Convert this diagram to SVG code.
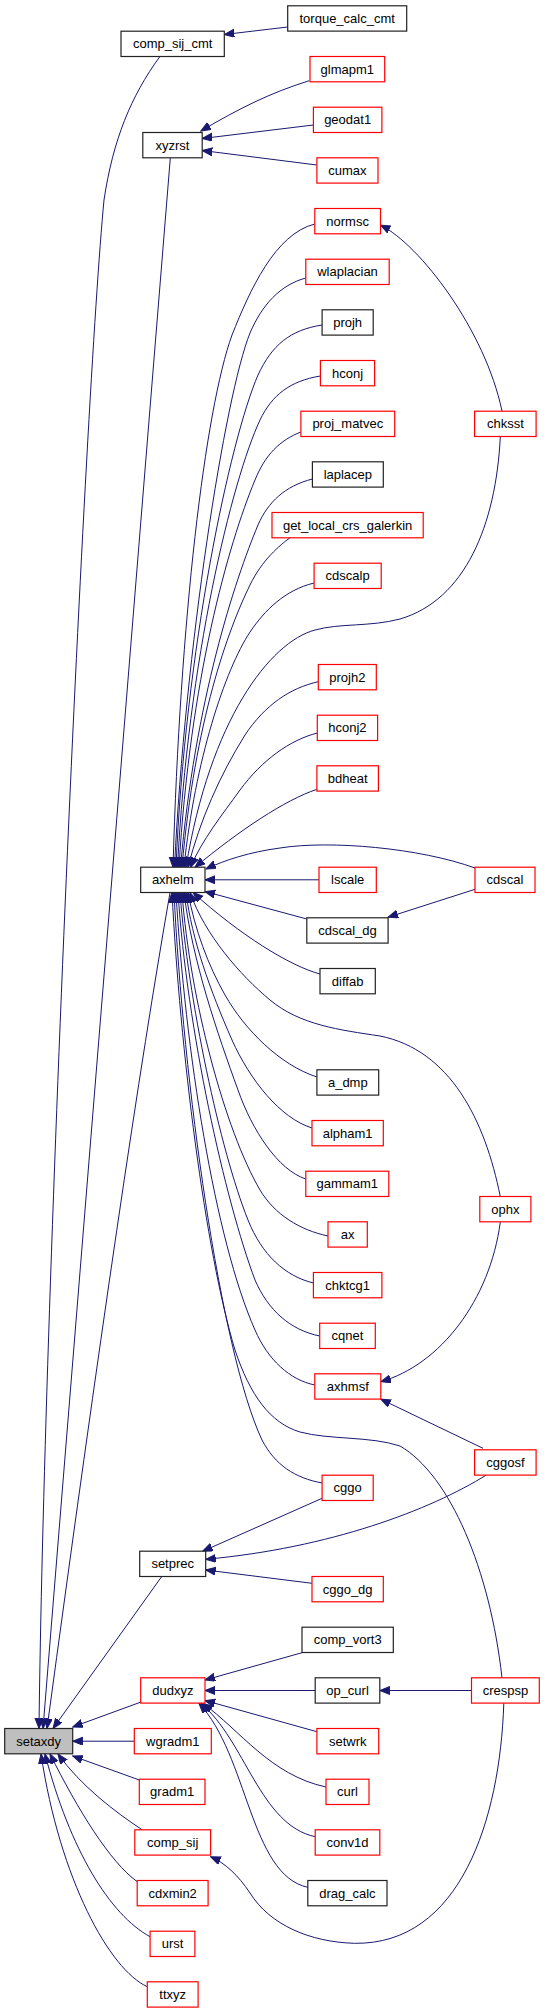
<svg xmlns="http://www.w3.org/2000/svg" width="544" height="2013" viewBox="0 0 544 2013">
<style>
rect{fill:#fff;stroke:#222;stroke-width:1.2}
.r rect{stroke:#f00}
.g rect{fill:#bfbfbf}
text{font-family:"Liberation Sans",Arial,sans-serif;font-size:13px;text-anchor:middle;fill:#000}
#edges path{fill:none;stroke:#191970;stroke-width:1;marker-end:url(#a)}
</style>
<defs>
<marker id="a" markerWidth="11" markerHeight="9" refX="10" refY="4" orient="auto" markerUnits="userSpaceOnUse"><path d="M0,0 L10,4 L0,8 z" fill="#191970" stroke="#191970" stroke-width="1"/></marker>
</defs>
<rect x="0" y="0" width="544" height="2013" style="fill:#fff;stroke:none"/>
<g id="edges">
<path d="M287.7,27 L224.3,34.5"/>
<path d="M159.8,56.7 C131,96 113,140 104,200 C85,400 44,1300 39,1728.5"/>
<path d="M170.3,158 L43,1728.5"/>
<path d="M170,892.7 Q125,1150 47,1728.5"/>
<path d="M161.6,1576.7 L53,1728.5"/>
<path d="M141,1702 L72.7,1727"/>
<path d="M134.3,1741.2 L72.7,1741.2"/>
<path d="M139.3,1780 L72.7,1756"/>
<path d="M142.5,1830 C115,1812 80,1785 58,1754"/>
<path d="M137.2,1881.7 C110,1862 78,1810 50,1754"/>
<path d="M150.1,1936.7 C110,1915 70,1850 45,1754"/>
<path d="M147.3,1986.7 C110,1970 60,1880 41,1754"/>
<path d="M322.1,1498.3 L202.6,1551.3"/>
<path d="M486.4,1475 C430,1510 330,1548 205.7,1559.3"/>
<path d="M312,1583.3 L205.7,1570"/>
<path d="M302,1652.7 L205,1680"/>
<path d="M315.2,1690.5 L205,1690.5"/>
<path d="M471.5,1690.5 L379.8,1690.5"/>
<path d="M316.9,1731.7 L205,1700.5"/>
<path d="M326,1787 C270,1775 240,1730 203,1703.5"/>
<path d="M315.2,1836.7 C260,1825 245,1740 201,1703.5"/>
<path d="M307.8,1887.3 C250,1875 248,1755 199,1703.5"/>
<path d="M503.8,1703.3 C500,1820 460,1945 354.4,1943.3 C310,1942 270,1925 250,1893 C238,1875 225,1863 210.6,1856.7"/>
<path d="M500.3,1222 C490,1300 440,1365 380.8,1381.7"/>
<path d="M483,1448.3 L380.8,1399.2"/>
<path d="M309.2,80.7 C270,93 240,108 200.8,131"/>
<path d="M313.4,125 L202.2,138.5"/>
<path d="M316.9,165 L202.2,150.5"/>
<path d="M502,411 C485,330 420,245 380.5,225"/>
<path d="M314.8,224 C275,234 250,290 232,335 C205,410 180,620 173,867.2"/>
<path d="M305.8,278 C280,285 262,305 250,333 C225,395 185,650 174.5,867.2"/>
<path d="M322.1,325 C290,330 272,345 258,375 C230,440 185,650 176,867.2"/>
<path d="M320.4,376 C290,381 272,395 260,420 C232,480 188,660 177.5,867.2"/>
<path d="M300.9,432 C280,440 265,455 255,480 C228,545 190,680 179,867.2"/>
<path d="M312.4,479 C285,486 268,502 258,525 C235,580 195,700 180.5,867.2"/>
<path d="M290,537.8 C280,545 262,560 250,585 C228,630 195,720 182,867.2"/>
<path d="M314.1,583 C285,590 265,610 250,632 C225,670 195,760 184,867.2"/>
<path d="M500.3,436.7 C496,525 465,600 400,619 C370,627 340,623 315,630 C270,642 210,720 186,867.2"/>
<path d="M318.3,681.7 C290,688 265,705 245,735 C220,775 200,820 188,867.2"/>
<path d="M317.3,733 C290,740 262,760 240,790 C222,815 202,840 190.5,867.2"/>
<path d="M316.9,789.3 C285,800 240,830 195,867.2"/>
<path d="M475,868 C420,848 330,840 280,848 C250,852 225,860 206,869"/>
<path d="M475,889.3 L388.1,917.2"/>
<path d="M319,879.8 L205,879.8"/>
<path d="M306.8,919 L205,891.5"/>
<path d="M320,974 C290,966 240,935 193,892.5"/>
<path d="M500.3,1196.7 C485,1120 450,1050 380,1036 C340,1030 300,1025 270,1000 C240,975 205,935 190,892.5"/>
<path d="M316.9,1077 C280,1065 245,1030 225,995 C208,965 195,930 188,892.5"/>
<path d="M312,1128 C280,1118 250,1080 232,1040 C210,990 192,940 186,892.5"/>
<path d="M305.8,1179 C278,1170 252,1130 238,1090 C218,1035 192,960 184,892.5"/>
<path d="M328,1236 C300,1230 275,1215 260,1190 C225,1130 190,1000 182,892.5"/>
<path d="M313.4,1283 C285,1276 262,1255 248,1220 C220,1150 188,1000 180,892.5"/>
<path d="M319.7,1336 C290,1330 268,1310 255,1280 C225,1200 187,1030 178,892.5"/>
<path d="M314.8,1385 C290,1380 268,1360 255,1330 C215,1240 185,1050 176,892.5"/>
<path d="M322.1,1483 C295,1478 275,1465 262,1440 C220,1350 183,1080 174,892.5"/>
<path d="M502,1677.8 C490,1570 450,1475 400,1446 C370,1436 330,1440 300,1432 C270,1423 250,1395 235,1350 C205,1250 180,1050 172,892.5"/>
</g>
<g id="torque_calc_cmt"><rect x="287.7" y="5.8" width="119" height="25.3"/><text x="347.2" y="23.1">torque_calc_cmt</text></g>
<g id="comp_sij_cmt"><rect x="121" y="31.2" width="103.3" height="25.3"/><text x="172.65" y="48.4">comp_sij_cmt</text></g>
<g id="glmapm1" class="r"><rect x="310" y="56.5" width="74.7" height="25.3"/><text x="347.35" y="73.8">glmapm1</text></g>
<g id="geodat1" class="r"><rect x="313.4" y="107.2" width="68.5" height="25.3"/><text x="347.65" y="124.4">geodat1</text></g>
<g id="xyzrst"><rect x="142.8" y="132.5" width="59.4" height="25.3"/><text x="172.5" y="149.8">xyzrst</text></g>
<g id="cumax" class="r"><rect x="316.9" y="157.8" width="61.1" height="25.3"/><text x="347.45" y="175.1">cumax</text></g>
<g id="normsc" class="r"><rect x="314.8" y="208.5" width="65.7" height="25.3"/><text x="347.65" y="225.8">normsc</text></g>
<g id="wlaplacian" class="r"><rect x="305.8" y="259.2" width="83.4" height="25.3"/><text x="347.5" y="276.4">wlaplacian</text></g>
<g id="projh"><rect x="322.1" y="309.8" width="51.1" height="25.3"/><text x="347.65" y="327.1">projh</text></g>
<g id="hconj" class="r"><rect x="320.4" y="360.5" width="54.2" height="25.3"/><text x="347.5" y="377.8">hconj</text></g>
<g id="proj_matvec" class="r"><rect x="300.9" y="411.2" width="93.8" height="25.3"/><text x="347.8" y="428.4">proj_matvec</text></g>
<g id="chksst" class="r"><rect x="474.6" y="411.2" width="61.5" height="25.3"/><text x="505.35" y="428.4">chksst</text></g>
<g id="laplacep"><rect x="312.4" y="461.8" width="70.9" height="25.3"/><text x="347.85" y="479.1">laplacep</text></g>
<g id="get_local_crs_galerkin" class="r"><rect x="272" y="512.5" width="151.2" height="25.3"/><text x="347.6" y="529.8">get_local_crs_galerkin</text></g>
<g id="cdscalp" class="r"><rect x="314.1" y="563.2" width="67.1" height="25.3"/><text x="347.65" y="580.4">cdscalp</text></g>
<g id="projh2" class="r"><rect x="318.3" y="664.5" width="58" height="25.3"/><text x="347.3" y="681.8">projh2</text></g>
<g id="hconj2" class="r"><rect x="317.3" y="715.2" width="60.3" height="25.3"/><text x="347.45" y="732.4">hconj2</text></g>
<g id="bdheat" class="r"><rect x="316.9" y="765.8" width="61.5" height="25.3"/><text x="347.65" y="783.1">bdheat</text></g>
<g id="axhelm"><rect x="140.7" y="867.2" width="64.3" height="25.3"/><text x="172.85" y="884.4">axhelm</text></g>
<g id="lscale" class="r"><rect x="319" y="867.2" width="57.3" height="25.3"/><text x="347.65" y="884.4">lscale</text></g>
<g id="cdscal" class="r"><rect x="475" y="867.2" width="60" height="25.3"/><text x="505" y="884.4">cdscal</text></g>
<g id="cdscal_dg"><rect x="306.8" y="917.8" width="81.3" height="25.3"/><text x="347.45" y="935.1">cdscal_dg</text></g>
<g id="diffab"><rect x="320" y="968.5" width="55.3" height="25.3"/><text x="347.65" y="985.8">diffab</text></g>
<g id="a_dmp"><rect x="316.9" y="1069.8" width="61.8" height="25.3"/><text x="347.8" y="1087.1">a_dmp</text></g>
<g id="alpham1" class="r"><rect x="312" y="1120.5" width="71.3" height="25.3"/><text x="347.65" y="1137.8">alpham1</text></g>
<g id="gammam1" class="r"><rect x="305.8" y="1171.2" width="83" height="25.3"/><text x="347.3" y="1188.4">gammam1</text></g>
<g id="ophx" class="r"><rect x="479.8" y="1196.5" width="51.1" height="25.3"/><text x="505.35" y="1213.8">ophx</text></g>
<g id="ax" class="r"><rect x="328" y="1221.8" width="39.3" height="25.3"/><text x="347.65" y="1239.1">ax</text></g>
<g id="chktcg1" class="r"><rect x="313.4" y="1272.5" width="68.5" height="25.3"/><text x="347.65" y="1289.8">chktcg1</text></g>
<g id="cqnet" class="r"><rect x="319.7" y="1323.2" width="55.6" height="25.3"/><text x="347.5" y="1340.4">cqnet</text></g>
<g id="axhmsf" class="r"><rect x="314.8" y="1373.8" width="66" height="25.3"/><text x="347.8" y="1391.1">axhmsf</text></g>
<g id="cggosf" class="r"><rect x="474.6" y="1449.8" width="61.5" height="25.3"/><text x="505.35" y="1467.1">cggosf</text></g>
<g id="cggo" class="r"><rect x="322.1" y="1475.2" width="51.1" height="25.3"/><text x="347.65" y="1492.4">cggo</text></g>
<g id="setprec"><rect x="139.7" y="1551.2" width="66" height="25.3"/><text x="172.7" y="1568.4">setprec</text></g>
<g id="cggo_dg" class="r"><rect x="312" y="1576.5" width="71.3" height="25.3"/><text x="347.65" y="1593.8">cggo_dg</text></g>
<g id="comp_vort3"><rect x="302" y="1627.2" width="91.3" height="25.3"/><text x="347.65" y="1644.4">comp_vort3</text></g>
<g id="dudxyz" class="r"><rect x="140.7" y="1677.8" width="64.3" height="25.3"/><text x="172.85" y="1695.1">dudxyz</text></g>
<g id="op_curl"><rect x="315.2" y="1677.8" width="64.6" height="25.3"/><text x="347.5" y="1695.1">op_curl</text></g>
<g id="crespsp" class="r"><rect x="471.5" y="1677.8" width="67.8" height="25.3"/><text x="505.4" y="1695.1">crespsp</text></g>
<g id="setaxdy" class="g"><rect x="4.7" y="1728.5" width="68" height="25.3"/><text x="38.7" y="1745.8">setaxdy</text></g>
<g id="wgradm1" class="r"><rect x="134.3" y="1728.5" width="77" height="25.3"/><text x="172.8" y="1745.8">wgradm1</text></g>
<g id="setwrk" class="r"><rect x="316.9" y="1728.5" width="61.8" height="25.3"/><text x="347.8" y="1745.8">setwrk</text></g>
<g id="gradm1" class="r"><rect x="139.3" y="1779.2" width="65.7" height="25.3"/><text x="172.15" y="1796.4">gradm1</text></g>
<g id="curl" class="r"><rect x="326" y="1779.2" width="43" height="25.3"/><text x="347.5" y="1796.4">curl</text></g>
<g id="comp_sij" class="r"><rect x="134.8" y="1829.8" width="75.8" height="25.3"/><text x="172.7" y="1847.1">comp_sij</text></g>
<g id="conv1d" class="r"><rect x="315.2" y="1829.8" width="64.6" height="25.3"/><text x="347.5" y="1847.1">conv1d</text></g>
<g id="cdxmin2" class="r"><rect x="137.2" y="1880.5" width="70.9" height="25.3"/><text x="172.65" y="1897.8">cdxmin2</text></g>
<g id="drag_calc"><rect x="307.8" y="1880.5" width="79.2" height="25.3"/><text x="347.4" y="1897.8">drag_calc</text></g>
<g id="urst" class="r"><rect x="150.1" y="1931.2" width="44.8" height="25.3"/><text x="172.5" y="1948.4">urst</text></g>
<g id="ttxyz" class="r"><rect x="147.3" y="1981.8" width="50.8" height="25.3"/><text x="172.7" y="1999.1">ttxyz</text></g>
</svg>
